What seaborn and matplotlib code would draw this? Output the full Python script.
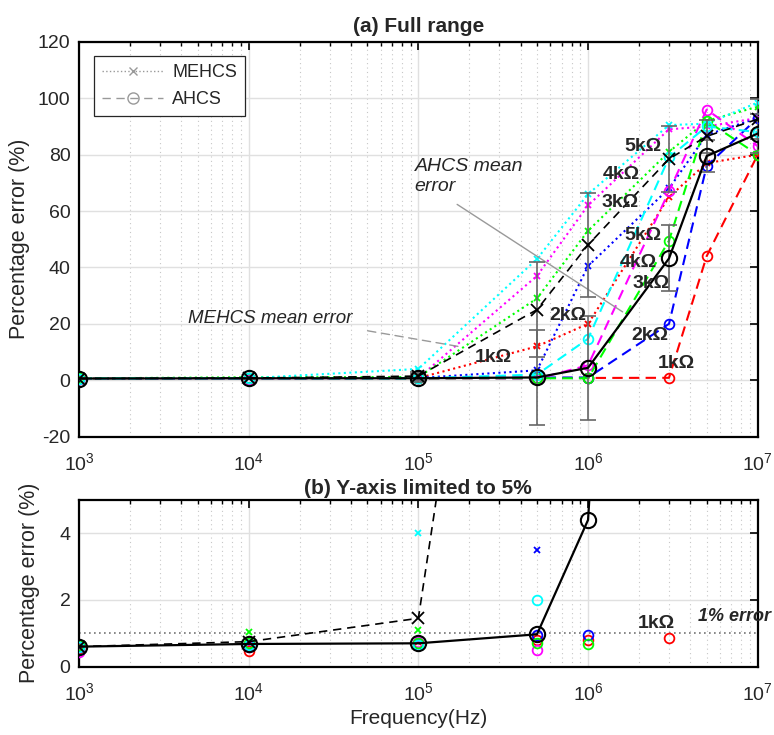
import matplotlib
matplotlib.use("Agg")
import matplotlib.pyplot as plt
from matplotlib.lines import Line2D
from matplotlib.ticker import LogLocator, NullFormatter, MultipleLocator
import seaborn as sns

# Test frequencies (Hz)
freq = [1e3, 1e4, 1e5, 5e5, 1e6, 3e6, 5e6, 1e7]

resistances = ["1k\u03a9", "2k\u03a9", "3k\u03a9", "4k\u03a9", "5k\u03a9"]
colors = ["#ff0000", "#0000ff", "#ff00ff", "#00ff00", "#00ffff"]

# MEHCS percentage error per load resistance
mehcs_1k = [0.60, 0.70, 0.75, 12.0, 20.0, 65.0, 77.0, 80.0]
mehcs_2k = [0.60, 0.70, 0.80, 3.5, 40.5, 68.0, 87.0, 93.0]
mehcs_3k = [0.55, 0.65, 0.80, 37.0, 62.0, 89.0, 90.0, 93.0]
mehcs_4k = [0.65, 1.05, 1.10, 29.0, 53.0, 81.0, 92.0, 97.0]
mehcs_5k = [0.60, 0.70, 4.00, 43.0, 66.0, 90.5, 91.0, 98.5]

# AHCS percentage error per load resistance
ahcs_1k = [0.55, 0.48, 0.70, 0.80, 0.80, 0.85, 44.0, 80.0]
ahcs_2k = [0.60, 0.65, 0.70, 0.95, 0.95, 20.0, 76.0, 93.0]
ahcs_3k = [0.45, 0.60, 0.75, 0.50, 5.30, 67.0, 96.0, 83.0]
ahcs_4k = [0.65, 0.70, 0.70, 0.70, 0.68, 49.5, 92.0, 80.0]
ahcs_5k = [0.60, 0.65, 0.65, 2.00, 14.7, 79.0, 90.0, 88.0]

# Mean errors and their spread
mehcs_mean = [0.60, 0.75, 1.45, 25.0, 48.0, 78.5, 86.5, 92.6]
ahcs_mean = [0.60, 0.68, 0.70, 0.97, 4.40, 43.2, 79.5, 87.5]
error_std = [0.05, 0.15, 1.45, 16.8, 18.5, 11.7, 5.8, 7.0]

mehcs = [mehcs_1k, mehcs_2k, mehcs_3k, mehcs_4k, mehcs_5k]
ahcs = [ahcs_1k, ahcs_2k, ahcs_3k, ahcs_4k, ahcs_5k]

sns.set_style("white")
plt.rcParams["font.family"] = ["Liberation Sans", "DejaVu Sans"]
plt.rcParams["mathtext.default"] = "regular"
plt.rcParams["axes.unicode_minus"] = False

fig = plt.figure(figsize=(7.74, 7.35), dpi=100)
ax_top = fig.add_axes([0.102, 0.406, 0.877, 0.537])
ax_bot = fig.add_axes([0.102, 0.093, 0.877, 0.2268])


def draw_series(ax, connect=True):
    ax.set_xscale("log")
    dot = ":" if connect else "none"
    dash = (0, (5, 3)) if connect else "none"
    for vals, c in zip(mehcs, colors):
        sns.lineplot(x=freq, y=vals, ax=ax, color=c, linestyle=dot, lw=1.5,
                     marker="x", markersize=5, markeredgecolor=c,
                     markeredgewidth=1.3, estimator=None, sort=False,
                     legend=False, zorder=3)
    for vals, c in zip(ahcs, colors):
        sns.lineplot(x=freq, y=vals, ax=ax, color=c, linestyle=dash,
                     lw=1.5, marker="o", markersize=7, markeredgecolor=c,
                     markerfacecolor="none", markeredgewidth=1.3,
                     estimator=None, sort=False, legend=False, zorder=3)
    sns.lineplot(x=freq, y=mehcs_mean, ax=ax, color="k", linestyle=(0, (5, 3.5)),
                 lw=1.2, marker="x", markersize=8, markeredgecolor="k",
                 markeredgewidth=1.3, estimator=None, sort=False,
                 legend=False, zorder=5)
    sns.lineplot(x=freq, y=ahcs_mean, ax=ax, color="k", linestyle="-",
                 lw=1.6, marker="o", markersize=11, markeredgecolor="k",
                 markerfacecolor="none", markeredgewidth=1.5,
                 estimator=None, sort=False, legend=False, zorder=6)


def style_axes(ax):
    ax.set_xlim(1e3, 1e7)
    ax.xaxis.set_major_locator(LogLocator(base=10, numticks=10))
    ax.xaxis.set_minor_locator(LogLocator(base=10, subs=range(2, 10), numticks=20))
    ax.xaxis.set_minor_formatter(NullFormatter())
    ax.grid(which="major", color="0.88", lw=1.0, ls="-")
    ax.grid(which="minor", axis="x", color="0.78", lw=0.8, ls=(0, (1, 3)))
    ax.tick_params(which="both", direction="in", top=True, right=True,
                   labelsize=14, colors="k", labelcolor="0.15")
    ax.tick_params(which="major", length=6, width=1.2)
    ax.tick_params(which="minor", length=3, width=1.0)
    ax.tick_params(axis="x", which="major", pad=11)
    ax.tick_params(axis="y", which="major", pad=6)
    for sp in ax.spines.values():
        sp.set_linewidth(1.6)
        sp.set_color("k")
    ax.set_axisbelow(True)


# (a) full range
draw_series(ax_top)
ax_top.errorbar(freq, mehcs_mean, yerr=error_std, fmt="none", ecolor="0.4",
                elinewidth=1.2, capsize=5.5, capthick=1.2, zorder=4)
ax_top.errorbar(freq, ahcs_mean, yerr=error_std, fmt="none", ecolor="0.4",
                elinewidth=1.2, capsize=5.5, capthick=1.2, zorder=4)
style_axes(ax_top)
ax_top.set_ylim(-20, 120)
ax_top.yaxis.set_major_locator(MultipleLocator(20))
ax_top.set_title("(a) Full range", fontsize=15, fontweight="bold", pad=7)
ax_top.set_ylabel("Percentage error (%)", fontsize=15.5, color="0.15",
                  labelpad=6)
ax_top.set_xlabel("")

mehcs_label_pos = [(2.75e5, 8.2), (7.6e5, 23.0), (1.54e6, 63.0),
                   (1.56e6, 72.9), (2.10e6, 83.0)]
ahcs_label_pos = [(3.29e6, 6.1), (2.31e6, 16.0), (2.34e6, 34.3),
                  (1.99e6, 41.7), (2.10e6, 51.2)]
for name, (x, y) in zip(resistances, mehcs_label_pos):
    ax_top.text(x, y, name, fontsize=14, fontweight="bold", ha="center",
                va="center", zorder=7)
for name, (x, y) in zip(resistances, ahcs_label_pos):
    ax_top.text(x, y, name, fontsize=14, fontweight="bold", ha="center",
                va="center", zorder=7)

ax_top.text(9.53e4, 72.3, "AHCS mean\nerror", fontsize=14, style="italic",
            ha="left", va="center", linespacing=1.25)
ax_top.annotate("", xy=(1.65e6, 23.7), xytext=(1.64e5, 62.9),
                arrowprops=dict(arrowstyle="-", color="0.6", lw=1.0))
ax_top.text(4.39e3, 21.8, "MEHCS mean error", fontsize=13.5, style="italic",
            ha="left", va="center")
ax_top.annotate("", xy=(1.83e5, 11.7), xytext=(4.84e4, 17.7),
                arrowprops=dict(arrowstyle="-", color="0.6", lw=1.0,
                                linestyle=(0, (6, 4))))

legend_handles = [
    Line2D([], [], color="0.6", ls=":", lw=1.0, marker="x", markersize=6,
           markeredgewidth=1.0),
    Line2D([], [], color="0.6", ls=(0, (6, 4)), lw=1.0, marker="o",
           markersize=8, markerfacecolor="none", markeredgewidth=1.0),
]
leg = ax_top.legend(legend_handles, ["MEHCS", "AHCS"], loc="upper left",
                    bbox_to_anchor=(0.022, 0.964), borderaxespad=0,
                    fontsize=13, handlelength=3.4, handletextpad=0.5,
                    frameon=True, fancybox=False, framealpha=1,
                    borderpad=0.45, labelspacing=0.55)
leg.get_frame().set_edgecolor("0.15")
leg.get_frame().set_linewidth(0.9)

# (b) zoom on the first 5 %
draw_series(ax_bot, connect=False)
ax_bot.axhline(1.0, color="0.45", ls=(0, (1, 2)), lw=1.2, zorder=2)
style_axes(ax_bot)
ax_bot.set_ylim(0, 5)
ax_bot.yaxis.set_major_locator(MultipleLocator(2))
ax_bot.set_title("(b) Y-axis limited to 5%", fontsize=15, fontweight="bold",
                 pad=4)
ax_bot.set_ylabel("Percentage error (%)", fontsize=15.5, color="0.15",
                  labelpad=14)
ax_bot.set_xlabel("Frequency(Hz)", fontsize=15, color="0.15", labelpad=4)
ax_bot.text(2.51e6, 1.29, "1k\u03a9", fontsize=14, fontweight="bold",
            ha="center", va="center", zorder=7)
ax_bot.text(4.43e6, 1.5, "1% error", fontsize=13, fontweight="bold",
            style="italic", ha="left", va="center", clip_on=False)

fig.savefig("out.png", dpi=100)
